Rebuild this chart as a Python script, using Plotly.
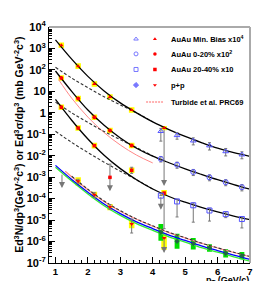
import numpy as np
import plotly.graph_objects as go

# ---------------- data ----------------
# AuAu Min. Bias x10^4 (red, with systematic boxes)
mb_pt = [1.18, 1.70, 2.20, 2.68, 3.35, 4.35]
mb_y = [1.4e3, 1.5e2, 22.0, 5.5, 1.35, 0.195]
mb_sys = [0.13, 0.13, 0.13, 0.13, 0.13, 0.10]          # box half height (decades)
# AuAu Min. Bias x10^4 (blue, high pT)
mbh_pt = [4.25, 4.75, 5.25, 5.75, 6.25, 6.75]
mbh_y = [0.138, 0.089, 0.050, 0.0295, 0.0158, 0.0112]
mbh_up = [0.05, 0.03, 0.018, 0.011, 0.006, 0.004]
mbh_dn = [0.09, 0.03, 0.018, 0.011, 0.006, 0.004]

# AuAu 0-20% x10^2
c20_pt = [1.18, 1.70, 2.20, 2.68, 3.35]
c20_y = [42.0, 4.6, 0.62, 0.15, 0.030]
c20_sys = [0.13, 0.13, 0.13, 0.13, 0.13]
c20h_pt = [4.25, 4.75, 5.25, 5.75, 6.25, 6.75]
c20h_y = [7.1e-3, 3.8e-3, 1.74e-3, 9.8e-4, 5.8e-4, 3.4e-4]
c20h_up = [2.0e-3, 1.2e-3, 5.5e-4, 3.0e-4, 1.8e-4, 1.1e-4]
c20h_dn = [2.0e-3, 1.2e-3, 5.5e-4, 3.0e-4, 1.8e-4, 1.1e-4]

# AuAu 20-40% x10
c40_pt = [1.18, 1.70, 2.20, 3.35, 4.35]
c40_y = [1.82, 0.195, 0.0295, 2.1e-3, 1.82e-4]
c40_sys = [0.13, 0.13, 0.13, 0.13, 0.14]
c40_up = [0.0, 0.0, 0.0, 8.0e-4, 0.0]
c40_dn = [0.0, 0.0, 0.0, 6.0e-4, 1.78e-4]
c40lim_pt = [2.68]
c40lim_y = [9.8e-4]
c40lim_up = [3.1e-3]
c40h_pt = [4.25, 4.75, 5.25, 5.75, 6.25, 6.75]
c40h_y = [1.38e-4, 7.4e-5, 4.9e-5, 2.8e-5, 1.9e-5, 1.12e-5]
c40h_up = [3.0e-5, 2.0e-5, 1.4e-5, 8.0e-6, 5.0e-6, 3.5e-6]
c40h_dn = [0.0, 6.0e-5, 4.1e-5, 1.9e-5, 6.0e-6, 6.9e-6]

# p+p
pp_pt = [1.70, 2.20, 2.68, 3.35, 4.35]
pp_y = [6.5e-4, 1.5e-4, 4.1e-5, 6.6e-6, 1.45e-6]
pp_sys_hi = [9.8e-4, 2.1e-4, 5.6e-5, 1.05e-5, 2.5e-6]
pp_sys_lo = [4.1e-4, 1.05e-4, 2.9e-5, 4.2e-6, 4.2e-7]
pp_up = [1.5e-4, 4.0e-5, 1.2e-5, 4.6e-6, 0.0]
pp_dn = [1.2e-4, 3.5e-5, 1.0e-5, 4.1e-6, 0.0]
pph_pt = [4.25, 4.75, 5.25, 5.75, 6.25, 6.75]
pph_y = [2.7e-6, 1.02e-6, 7.9e-7, 5.0e-7, 2.8e-7, 2.2e-7]
pph_sys = [0.39, 0.35, 0.27, 0.17, 0.19, 0.17]

# upper limits / arrows: (pT, from, to)
lim_pt = [1.20, 2.68, 4.35, 4.25, 4.35]
lim_from = [1.55e-3, 9.8e-4, 0.195, 1.38e-4, 1.45e-6]
lim_to = [3.1e-4, 2.2e-4, 3.9e-4, 3.0e-5, 2.9e-7]

# curves
cx = [1.0, 1.5, 2.0, 2.5, 3.0, 3.5, 4.0, 4.5, 5.0, 5.5, 6.0, 6.5, 7.0]
fit_mb = [2500, 316, 50, 10.5, 2.9, 1.0, 0.38, 0.166, 0.079, 0.041, 0.0224, 0.0138, 0.0093]
fit_c20 = [89, 10, 1.35, 0.263, 0.0676, 0.0224, 9.5e-3, 4.7e-3, 2.45e-3, 1.35e-3, 7.6e-4, 4.5e-4, 2.75e-4]
fit_c40 = [4.2, 0.45, 0.060, 0.0105, 2.5e-3, 7.6e-4, 2.8e-4, 1.26e-4, 6.8e-5, 3.9e-5, 2.4e-5, 1.55e-5, 1.05e-5]
dx = [1.0, 1.5, 2.0, 2.5, 3.0, 3.5, 4.0]
pps_mb = [132, 41.7, 14.8, 5.6, 2.34, 1.0, 0.38]
pps_c20 = [3.16, 1.0, 0.355, 0.135, 0.056, 0.024, 0.0098]
pps_c40 = [0.138, 0.0417, 0.0141, 5.0e-3, 1.9e-3, 7.6e-4, 2.8e-4]
tur_x = [1.1, 1.5, 2.0, 2.5, 3.0, 3.5, 4.0]
tur_c20 = [34.7, 4.8, 0.63, 0.12, 0.0316, 0.0107, 4.6e-3]
pp_blue = [3.55e-3, 7.9e-4, 2.0e-4, 5.6e-5, 2.0e-5, 8.3e-6, 4.0e-6, 2.0e-6, 1.12e-6, 6.3e-7, 3.8e-7, 2.34e-7, 1.48e-7]
pp_green = [2.9e-3, 6.6e-4, 1.66e-4, 4.7e-5, 1.66e-5, 6.9e-6, 3.3e-6, 1.66e-6, 9.3e-7, 5.2e-7, 3.2e-7, 1.95e-7, 1.23e-7]
turpp_x = [1.3, 1.5, 2.0, 2.5, 3.0, 3.5, 4.0, 4.5, 5.0, 5.5, 6.0, 6.5, 7.0]
tur_pp = [1.9e-3, 1.05e-3, 2.6e-4, 7.4e-5, 2.6e-5, 1.1e-5, 5.2e-6, 2.6e-6, 1.48e-6, 8.3e-7, 5.0e-7, 3.1e-7, 1.95e-7]
ppfit_x = [1.5, 2.0, 2.5, 3.0, 3.5, 4.0, 4.5, 5.0, 5.5, 6.0, 6.5, 7.0]
ppfit = [1.1e-3, 2.75e-4, 7.8e-5, 2.75e-5, 1.12e-5, 5.4e-6, 2.7e-6, 1.51e-6, 8.5e-7, 5.1e-7, 3.2e-7, 2.0e-7]

legend_labels = ["AuAu Min. Bias x10<sup>4</sup>", "AuAu 0-20% x10<sup>2</sup>",
                 "AuAu 20-40% x10", "p+p", "Turbide et al. PRC69"]
y_tickvals = [1e4, 1e3, 1e2, 10, 1, 0.1, 1e-2, 1e-3, 1e-4, 1e-5, 1e-6, 1e-7]
y_ticktext = ["10<sup>4</sup>", "10<sup>3</sup>", "10<sup>2</sup>", "10", "1",
              "10<sup>-1</sup>", "10<sup>-2</sup>", "10<sup>-3</sup>", "10<sup>-4</sup>",
              "10<sup>-5</sup>", "10<sup>-6</sup>", "10<sup>-7</sup>"]

# ---------------- figure ----------------
fig = go.Figure()
BW = 0.085  # box half width in pT
GW = 0.075

def boxes(xs, ys, dex=None, lo=None, hi=None, hw=BW):
    bx, by = [], []
    for i, (x, y) in enumerate(zip(xs, ys)):
        if dex is not None:
            y0, y1 = y / 10 ** dex[i], y * 10 ** dex[i]
        else:
            y0, y1 = lo[i], hi[i]
        bx += [x - hw, x + hw, x + hw, x - hw, x - hw, None]
        by += [y0, y0, y1, y1, y0, None]
    return bx, by

yb_x, yb_y = [], []
for xs, ys, d in [(mb_pt, mb_y, mb_sys), (c20_pt, c20_y, c20_sys), (c40_pt, c40_y, c40_sys)]:
    a, b = boxes(xs, ys, dex=d)
    yb_x += a; yb_y += b
a, b = boxes(pp_pt, pp_y, lo=pp_sys_lo, hi=pp_sys_hi)
yb_x += a; yb_y += b
fig.add_trace(go.Scatter(x=yb_x, y=yb_y, mode="lines", fill="toself", fillcolor="#ffff00",
                         line=dict(width=0), hoverinfo="skip"))
gx, gy = boxes(pph_pt, pph_y, dex=pph_sys, hw=GW)
fig.add_trace(go.Scatter(x=gx, y=gy, mode="lines", fill="toself", fillcolor="#00dd00",
                         line=dict(width=0), hoverinfo="skip"))

# curves
def line(x, y, color, dash="solid", width=1.2):
    fig.add_trace(go.Scatter(x=x, y=y, mode="lines", line=dict(color=color, dash=dash, width=width, shape="spline"),
                             hoverinfo="skip"))

line(cx, pp_green, "#33ee33", width=1.3)
line(cx, pp_blue, "#0000ff", width=1.3)
line(turpp_x, tur_pp, "#ff8888", width=1.2)
line(ppfit_x, ppfit, "#333333", dash="3px,2px", width=1.1)
line(tur_x, tur_c20, "#ff8888", width=1.0)
for d in [pps_mb, pps_c20, pps_c40]:
    line(dx, d, "#333333", dash="3px,2px", width=1.1)
for f in [fit_mb, fit_c20, fit_c40]:
    line(cx, f, "black", width=1.3)

ERR = dict(color="#777777", thickness=1, width=1.5)
RED = "#ff0000"
BLUE = "#5555ff"

# red points
fig.add_trace(go.Scatter(x=mb_pt, y=mb_y, mode="markers", marker=dict(symbol="triangle-up", size=4, color=RED)))
fig.add_trace(go.Scatter(x=c20_pt, y=c20_y, mode="markers", marker=dict(symbol="circle", size=4, color=RED)))
fig.add_trace(go.Scatter(x=c40_pt, y=c40_y, mode="markers",
                         error_y=dict(type="data", symmetric=False, array=c40_up, arrayminus=c40_dn, **ERR),
                         marker=dict(symbol="square", size=3.5, color=RED)))
fig.add_trace(go.Scatter(x=c40lim_pt, y=c40lim_y, mode="markers",
                         error_y=dict(type="data", symmetric=False, array=c40lim_up, arrayminus=[0], **ERR),
                         marker=dict(symbol="square", size=3.5, color=RED)))
fig.add_trace(go.Scatter(x=pp_pt, y=pp_y, mode="markers",
                         error_y=dict(type="data", symmetric=False, array=pp_up, arrayminus=pp_dn, **ERR),
                         marker=dict(symbol="triangle-down", size=4, color=RED)))

# blue open points
for xs, ys, up, dn, sym in [(mbh_pt, mbh_y, mbh_up, mbh_dn, "triangle-up-open"),
                            (c20h_pt, c20h_y, c20h_up, c20h_dn, "circle-open"),
                            (c40h_pt, c40h_y, c40h_up, c40h_dn, "square-open")]:
    fig.add_trace(go.Scatter(x=xs, y=ys, mode="markers",
                             error_y=dict(type="data", symmetric=False, array=up, arrayminus=dn, **ERR),
                             marker=dict(symbol=sym, size=5, color=BLUE, line=dict(width=1, color=BLUE))))
fig.add_trace(go.Scatter(x=pph_pt, y=pph_y, mode="markers",
                         marker=dict(symbol="diamond", size=4, color="#226644")))

# arrows (upper limits)
for x, y0, y1 in zip(lim_pt, lim_from, lim_to):
    fig.add_annotation(x=x, y=np.log10(y1), ax=x, ay=np.log10(y0), xref="x", yref="y",
                       axref="x", ayref="y", text="", showarrow=True, arrowhead=2,
                       arrowsize=1.2, arrowwidth=1, arrowcolor="#777777")

# legend on an overlay axis (paper-like coordinates)
leg_rows = [0.949, 0.886, 0.820, 0.754, 0.682]
blue_syms = ["triangle-up-open", "circle-open", "square-open", "diamond"]
red_syms = ["triangle-up", "circle", "square", "triangle-down"]
fig.add_trace(go.Scatter(x=[0.433] * 4, y=leg_rows[:4], mode="markers", xaxis="x2", yaxis="y2",
                         marker=dict(symbol=blue_syms, size=4, color="#7777ff",
                                     line=dict(width=1, color="#7777ff"))))
fig.add_trace(go.Scatter(x=[0.527] * 4, y=leg_rows[:4], mode="markers", xaxis="x2", yaxis="y2",
                         marker=dict(symbol=red_syms, size=3.5, color=RED)))
fig.add_trace(go.Scatter(x=[0.483, 0.567], y=[leg_rows[4]] * 2, mode="lines", xaxis="x2", yaxis="y2",
                         line=dict(color="#ff9999", dash="2px,1px", width=1.5)))
for lab, yy in zip(legend_labels, leg_rows):
    fig.add_annotation(x=0.597, y=yy, xref="x2", yref="y2", text="<b>" + lab + "</b>",
                       showarrow=False, xanchor="left", yanchor="middle",
                       font=dict(size=7.5, color="black", family="Liberation Sans"))

# axis titles
fig.add_annotation(x=-0.155, y=0.5, xref="paper", yref="paper", textangle=-90,
                   text="<b>Ed<sup>3</sup>N/dp<sup>3</sup>(GeV<sup>-2</sup>c<sup>3</sup>) or Ed<sup>3</sup>σ/dp<sup>3</sup> (mb GeV<sup>-2</sup>c<sup>3</sup>)</b>",
                   showarrow=False, xanchor="center", yanchor="middle",
                   font=dict(size=10.5, color="black", family="Liberation Sans"))
fig.add_annotation(x=1.0, y=-0.100, xref="paper", yref="paper",
                   text="<b>p<sub>T</sub> (GeV/c)</b>", showarrow=False, xanchor="right", yanchor="bottom",
                   borderpad=0, font=dict(size=9, color="black", family="Liberation Sans"))

# frame top/right gray
fig.add_shape(type="line", xref="paper", yref="paper", x0=0, x1=1, y0=1, y1=1,
              line=dict(color="#aaaaaa", width=2))
fig.add_shape(type="line", xref="paper", yref="paper", x0=1, x1=1, y0=0, y1=1,
              line=dict(color="#aaaaaa", width=2))

minor_y = [k * 10.0 ** d for d in range(-7, 4) for k in range(2, 10)]
fig.update_layout(
    width=269, height=281, showlegend=False,
    margin=dict(l=41, r=27, t=19, b=26),
    paper_bgcolor="white", plot_bgcolor="white",
    font=dict(family="Liberation Sans", color="black"),
    xaxis=dict(range=[0.8, 7.0], showgrid=False, zeroline=False, showline=True, linecolor="black",
               linewidth=1, ticks="inside", ticklen=6, tickcolor="black", dtick=1, tick0=0,
               tickfont=dict(size=9.5), tickprefix="<b>", ticksuffix="</b>", ticklabelstandoff=0,
               minor=dict(ticks="inside", ticklen=3, tickcolor="black", dtick=0.2, tick0=0)),
    yaxis=dict(type="log", range=[-7, 4], showgrid=False, zeroline=False, showline=True,
               linecolor="black", linewidth=1, ticks="inside", ticklen=6, tickcolor="black",
               tickvals=y_tickvals, ticktext=["<b>" + t + "</b>" for t in y_ticktext],
               tickfont=dict(size=11),
               minor=dict(ticks="inside", ticklen=3, tickcolor="black", tickvals=minor_y)),
    xaxis2=dict(range=[0, 1], overlaying="x", visible=False, anchor="y2"),
    yaxis2=dict(range=[0, 1], overlaying="y", visible=False, anchor="x2"),
)

fig.write_html("out.html")
